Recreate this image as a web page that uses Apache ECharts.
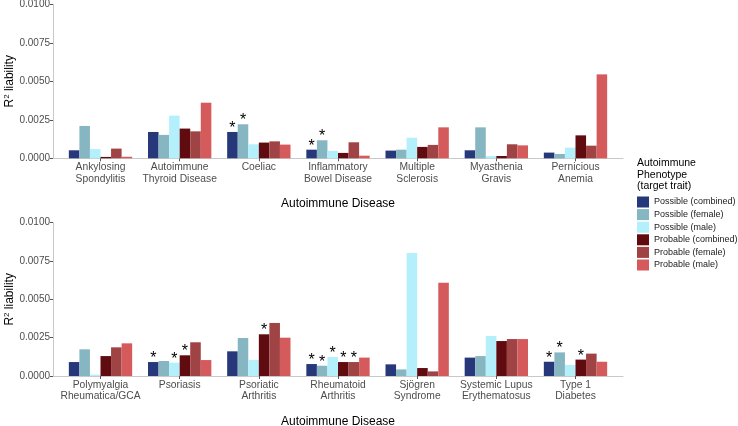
<!DOCTYPE html>
<html>
<head>
<meta charset="utf-8">
<script src="https://cdn.jsdelivr.net/npm/echarts@6/dist/echarts.min.js"></script>
<style>html,body{margin:0;padding:0;background:#fff}#c{width:738px;height:426px}</style>
</head>
<body>
<div id="c"></div>
<script>
var seriesNames = ["Possible (combined)","Possible (female)","Possible (male)","Probable (combined)","Probable (female)","Probable (male)"];
var seriesColors = ["#26377a","#87b6c3","#b3f0fc","#5f0b0f","#a04344","#d55a5c"];

var topCategories = ["Ankylosing\nSpondylitis","Autoimmune\nThyroid Disease","Coeliac","Inflammatory\nBowel Disease","Multiple\nSclerosis","Myasthenia\nGravis","Pernicious\nAnemia"];
var bottomCategories = ["Polymyalgia\nRheumatica/GCA","Psoriasis","Psoriatic\nArthritis","Rheumatoid\nArthritis","Sjögren\nSyndrome","Systemic Lupus\nErythematosus","Type 1\nDiabetes"];

// top panel values, one array per phenotype (order follows topCategories)
var topPossibleCombined = [0.00052,0.00171,0.00171,0.00056,0.00050,0.00052,0.00037];
var topPossibleFemale   = [0.00210,0.00152,0.00221,0.00117,0.00056,0.00201,0.00028];
var topPossibleMale     = [0.00060,0.00277,0.00091,0.00048,0.00134,0.00015,0.00069];
var topProbableCombined = [0.00009,0.00193,0.00102,0.00035,0.00074,0.00015,0.00149];
var topProbableFemale   = [0.00063,0.00175,0.00110,0.00104,0.00087,0.00091,0.00082];
var topProbableMale     = [0.00010,0.00361,0.00089,0.00017,0.00201,0.00084,0.00545];

// bottom panel values
var botPossibleCombined = [0.00091,0.00091,0.00161,0.00078,0.00076,0.00120,0.00093];
var botPossibleFemale   = [0.00174,0.00098,0.00248,0.00067,0.00043,0.00130,0.00154];
var botPossibleMale     = [0.00009,0.00087,0.00104,0.00124,0.00802,0.00261,0.00072];
var botProbableCombined = [0.00130,0.00135,0.00272,0.00091,0.00052,0.00228,0.00107];
var botProbableFemale   = [0.00187,0.00220,0.00346,0.00091,0.00030,0.00241,0.00146];
var botProbableMale     = [0.00213,0.00104,0.00250,0.00120,0.00609,0.00241,0.00093];

// significance markers (1 = asterisk)
var topSigPossibleCombined = [0,0,1,1,0,0,0];
var topSigPossibleFemale   = [0,0,1,1,0,0,0];
var topSigPossibleMale     = [0,0,0,0,0,0,0];
var topSigProbableCombined = [0,0,0,0,0,0,0];
var topSigProbableFemale   = [0,0,0,0,0,0,0];
var topSigProbableMale     = [0,0,0,0,0,0,0];
var botSigPossibleCombined = [0,1,0,1,0,0,1];
var botSigPossibleFemale   = [0,0,0,1,0,0,1];
var botSigPossibleMale     = [0,1,0,1,0,0,0];
var botSigProbableCombined = [0,1,1,1,0,0,1];
var botSigProbableFemale   = [0,0,0,1,0,0,0];
var botSigProbableMale     = [0,0,0,0,0,0,0];

var yTicks = [0, 0.0025, 0.005, 0.0075, 0.01];

var topValues = [topPossibleCombined,topPossibleFemale,topPossibleMale,topProbableCombined,topProbableFemale,topProbableMale];
var botValues = [botPossibleCombined,botPossibleFemale,botPossibleMale,botProbableCombined,botProbableFemale,botProbableMale];
var topSig = [topSigPossibleCombined,topSigPossibleFemale,topSigPossibleMale,topSigProbableCombined,topSigProbableFemale,topSigProbableMale];
var botSig = [botSigPossibleCombined,botSigPossibleFemale,botSigPossibleMale,botSigProbableCombined,botSigProbableFemale,botSigProbableMale];

var FONT = "'Liberation Sans', Arial, sans-serif";
var GRAY = "#4d4d4d";
var LINE = "#c9c9c9";

var outerLeft = 53, outerWidth = 570;
var band = outerWidth / 7.2;
var innerLeft = outerLeft + 0.1 * band, innerWidth = band * 7;
var panels = [{top: 4.3, height: 154}, {top: 222.7, height: 153.3}];

var grids = [], xAxes = [], yAxes = [], series = [];
panels.forEach(function (p, pi) {
  grids.push({left: outerLeft, width: outerWidth, top: p.top, height: p.height, containLabel: false, outerBoundsMode: 'none'});
  grids.push({left: innerLeft, width: innerWidth, top: p.top, height: p.height, containLabel: false, outerBoundsMode: 'none'});
  var gOuter = pi * 2, gInner = pi * 2 + 1;
  xAxes.push({type: 'value', gridIndex: gOuter, min: 0, max: 1, axisLine: {show: true, onZero: false, lineStyle: {color: LINE, width: 1}},
    axisTick: {show: false}, axisLabel: {show: false}, splitLine: {show: false}});
  yAxes.push({type: 'value', gridIndex: gOuter, min: 0, max: 0.01, interval: 0.0025,
    axisLine: {show: true, lineStyle: {color: LINE, width: 1}},
    axisTick: {show: true, length: 3, lineStyle: {color: '#555'}},
    axisLabel: {fontFamily: FONT, fontSize: 10, color: GRAY, margin: 3, formatter: function (v) { return v.toFixed(4); }},
    splitLine: {show: false},
    name: '{n|R}{sup|2}{n| liability}', nameLocation: 'middle', nameGap: 36.5, nameRotate: 90, nameMoveOverlap: false,
    nameTextStyle: {rich: {n: {fontFamily: FONT, fontSize: 12, color: '#000'}, sup: {fontFamily: FONT, fontSize: 8, color: '#000', verticalAlign: 'top', padding: [0, 0, 6, 0]}}}
  });
  xAxes.push({type: 'category', gridIndex: gInner, data: pi === 0 ? topCategories : bottomCategories,
    axisLine: {show: false}, axisTick: {show: true, alignWithLabel: true, length: 3, lineStyle: {color: '#555'}},
    axisLabel: {fontFamily: FONT, fontSize: 10.3, color: GRAY, margin: 3, lineHeight: 11.7, interval: 0},
    name: 'Autoimmune Disease', nameLocation: 'middle', nameGap: 39.5, nameMoveOverlap: false,
    nameTextStyle: {fontFamily: FONT, fontSize: 12, color: '#000'}});
  yAxes.push({type: 'value', gridIndex: gInner, min: 0, max: 0.01, show: false});
  var vals = pi === 0 ? topValues : botValues;
  var sig = pi === 0 ? topSig : botSig;
  seriesNames.forEach(function (nm, si) {
    series.push({
      type: 'bar', name: nm, xAxisIndex: pi * 2 + 1, yAxisIndex: pi * 2 + 1,
      data: vals[si], barWidth: band * 0.8 / 6, barGap: '0%',
      itemStyle: {color: seriesColors[si]},
      label: {show: true, position: 'top', distance: -4.5, fontFamily: FONT, fontSize: 16, color: '#000',
        formatter: (function (s) { return function (p) { return s[p.dataIndex] ? '*' : ''; }; })(sig[si])},
      emphasis: {disabled: true}, animation: false
    });
  });
});

var chart = echarts.init(document.getElementById('c'), null, {renderer: 'canvas'});
chart.setOption({
  animation: false,
  backgroundColor: '#fff',
  title: {text: 'Autoimmune\nPhenotype\n(target trait)', left: 637, top: 157.5, padding: 0,
    textStyle: {fontFamily: FONT, fontSize: 10.5, fontWeight: 'normal', color: '#000', lineHeight: 11.5}},
  legend: {data: seriesNames, orient: 'vertical', left: 637, top: 196.5, padding: 0, itemWidth: 12, itemHeight: 11, itemGap: 1.6,
    icon: 'rect', textStyle: {fontFamily: FONT, fontSize: 9, color: '#1a1a1a'}, selectedMode: false},
  grid: grids, xAxis: xAxes, yAxis: yAxes, series: series
});
</script>
</body>
</html>
